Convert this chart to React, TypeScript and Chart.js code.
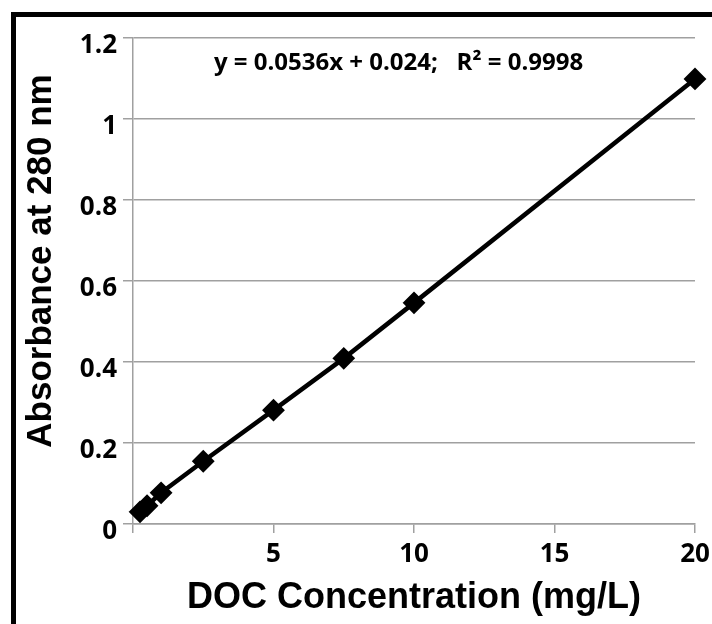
import React, { useEffect, useRef } from "react";
import { Chart, registerables } from "chart.js";

Chart.register(...registerables);

const concentrations = [0.25, 0.5, 1, 2.5, 5, 7.5, 10, 20];
const absorbances = [0.03, 0.045, 0.077, 0.155, 0.281, 0.409, 0.546, 1.099];
const xTickLabels = ["", "5", "10", "15", "20"];
const yTickLabels = ["0", "0.2", "0.4", "0.6", "0.8", "1", "1.2"];
const equationText = "y = 0.0536x + 0.024;   R\u00B2 = 0.9998";
const xTitle = "DOC Concentration (mg/L)";
const yTitle = "Absorbance at 280 nm";

const GRID = "#a0a0a0";
const TICK_FONT = { family: "'Open Sans', Lato, sans-serif", size: 26, weight: "bold" as const };
const TITLE_FAMILY = "'Liberation Sans', Arial, sans-serif";

const framePlugin = {
  id: "frame",
  beforeDraw(chart: any) {
    const ctx = chart.ctx;
    ctx.save();
    ctx.fillStyle = "#ffffff";
    ctx.fillRect(0, 0, chart.width, chart.height);
    ctx.strokeStyle = "#000000";
    ctx.lineWidth = 5;
    ctx.strokeRect(13.5, 14.5, chart.width + 40, chart.height + 40);
    ctx.restore();
  },
};

const textPlugin = {
  id: "texts",
  afterDatasetsDraw(chart: any) {
    const ctx = chart.ctx;
    const xs = chart.scales.x;
    const ys = chart.scales.y;
    ctx.save();
    ctx.fillStyle = "#000000";
    ctx.textAlign = "center";
    ctx.textBaseline = "middle";
    ctx.font = "bold 24px 'Open Sans', Lato, sans-serif";
    ctx.fillText(equationText, xs.getPixelForValue(9.45), ys.getPixelForValue(1.138));
    ctx.font = `bold 35px ${TITLE_FAMILY}`;
    ctx.translate(41, 261);
    ctx.rotate(-Math.PI / 2);
    ctx.fillText(yTitle, 0, 0);
    ctx.restore();
  },
};

export default function App() {
  const canvasRef = useRef<HTMLCanvasElement | null>(null);

  useEffect(() => {
    if (!canvasRef.current) return;
    const chart = new Chart(canvasRef.current, {
      type: "scatter",
      data: {
        datasets: [
          {
            label: "Absorbance",
            data: concentrations.map((x, i) => ({ x, y: absorbances[i] })),
            showLine: true,
            clip: false,
            borderColor: "#000000",
            borderWidth: 4.5,
            backgroundColor: "#000000",
            pointStyle: "rectRot",
            pointRadius: 10,
            pointBorderWidth: 2,
            pointBorderColor: "#000000",
            pointBackgroundColor: "#000000",
          },
        ],
      },
      options: {
        responsive: false,
        animation: false,
        devicePixelRatio: 1,
        layout: { autoPadding: false, padding: { top: 38, right: 17, left: 0, bottom: 0 } },
        plugins: {
          legend: { display: false },
          tooltip: { enabled: false },
        },
        scales: {
          x: {
            type: "linear",
            min: 0,
            max: 20,
            afterFit(scale: any) {
              scale.height = 100;
              scale.paddingLeft = 0;
              scale.paddingRight = 0;
            },
            ticks: {
              stepSize: 5,
              color: "#000000",
              font: TICK_FONT,
              padding: 6,
              maxRotation: 0,
              autoSkip: false,
              callback: (_v: any, i: number) => xTickLabels[i] ?? "",
            },
            grid: {
              drawOnChartArea: false,
              drawTicks: true,
              tickLength: 9,
              color: GRID,
              lineWidth: 1.5,
            },
            border: { display: true, color: GRID, width: 1.5 },
            title: {
              display: true,
              text: xTitle,
              color: "#000000",
              font: { family: TITLE_FAMILY, size: 36, weight: "bold" as const },
              padding: { top: 0, bottom: 4 },
            },
          },
          y: {
            type: "linear",
            min: 0,
            max: 1.2,
            afterFit(scale: any) {
              scale.width = 133;
              scale.paddingTop = 0;
              scale.paddingBottom = 0;
            },
            ticks: {
              stepSize: 0.2,
              color: "#000000",
              font: TICK_FONT,
              padding: 6,
              labelOffset: 8,
              autoSkip: false,
              callback: (_v: any, i: number) => yTickLabels[i] ?? "",
            },
            grid: {
              drawOnChartArea: true,
              drawTicks: true,
              tickLength: 10,
              color: GRID,
              lineWidth: 1.5,
            },
            border: { display: true, color: GRID, width: 1.5 },
            title: { display: false },
          },
        },
      },
      plugins: [framePlugin, textPlugin],
    });
    return () => chart.destroy();
  }, []);

  return (
    <div style={{ position: "absolute", left: 0, top: 0, width: 712, height: 624 }}>
      <canvas ref={canvasRef} width={712} height={624} style={{ display: "block" }} />
    </div>
  );
}
